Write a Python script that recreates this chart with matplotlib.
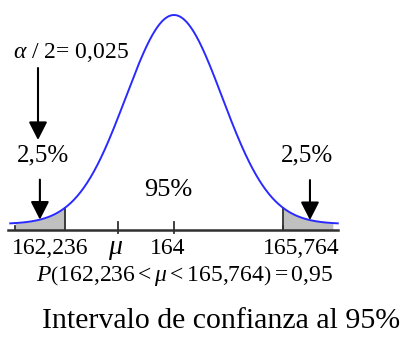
import numpy as np
import matplotlib.pyplot as plt

plt.rcParams['font.family'] = ['Liberation Serif', 'DejaVu Serif']
plt.rcParams['mathtext.fontset'] = 'custom'
plt.rcParams['mathtext.rm'] = 'Liberation Serif'
plt.rcParams['mathtext.it'] = 'Liberation Serif:italic'

# datos del intervalo
media = 164
lim_inf = 162.236
lim_sup = 165.764
mu_x = 163.1            # posicion donde se marca mu
sigma = 0.78            # ancho de la campana dibujada
extremos = [161.43, 166.57]
rango_curva = [161.35, 166.65]
flechas_x = [161.83, 166.2]
etiquetas = ['162,236', r'$\mu$', '164', '165,764']

W, H = 402, 356


def normal(x):
    return np.exp(-0.5 * ((x - media) / sigma) ** 2) / (sigma * np.sqrt(2 * np.pi))


fig = plt.figure(figsize=(W / 100, H / 100), dpi=100)
ax = fig.add_axes([0, 0, 1, 1])
ax.axis('off')

esc = 61.8                      # px por unidad en x
pico = normal(media)
ypx = 209 / pico                # px por unidad en y
ax.set_xlim(media - 174 / esc, media + (W - 174) / esc)
ax.set_ylim(-(H - 224) / ypx, pico + 15 / ypx)

base = -6 / ypx

# colas sombreadas
for a, b in [(extremos[0], lim_inf), (lim_sup, extremos[1])]:
    xs = np.linspace(a, b, 100)
    ax.fill_between(xs, base, normal(xs), color='#c0c0c0', lw=0)
    ax.plot([a, a], [base, -2 / ypx], color='#303030', lw=1.3)
for v in [lim_inf, lim_sup]:
    ax.plot([v, v], [base, normal(v)], color='#303030', lw=1.3)

# eje
ax.plot([161.31, 166.65], [base, base], color='#303030', lw=1.8)
for v in [mu_x, media]:
    ax.plot([v, v], [base - 3 / ypx, base + 8 / ypx], color='#303030', lw=1.3)

# curva normal
x = np.linspace(rango_curva[0], rango_curva[1], 400)
ax.plot(x, normal(x), color='#2a2aff', lw=1.4)

# flechas
estilo = dict(arrowstyle='-|>,head_length=0.55,head_width=0.28', color='black',
              lw=1.5, mutation_scale=20, shrinkA=0, shrinkB=0)
for fx in flechas_x:
    ax.annotate('', xy=(fx, normal(fx)), xytext=(0, 40), textcoords='offset pixels',
                arrowprops=estilo)
ax.annotate('', xy=(38, H - 140), xytext=(38, H - 68), xycoords='figure pixels',
            arrowprops=estilo)


def texto(px, py, s, size, ha='center'):
    fig.text(px / W, 1 - py / H, s, fontsize=size, ha=ha, va='center')


texto(13, 53, r'$\alpha$ / 2= 0,025', 17, ha='left')
texto(43, 155, '2,5%', 18)
texto(307, 155, '2,5%', 18)
texto(168, 190, '95%', 19)
for px, s in zip([50, 116, 168, 301], etiquetas):
    texto(px, 249, s, 20 if s.startswith('$') else 17)
texto(185, 276, r'$P\left(162{,}236 < \mu < 165{,}764\right) = 0{,}95$', 17)
texto(221, 321, 'Intervalo de confianza al 95%', 21.5)

fig.savefig('out.png', dpi=100)
